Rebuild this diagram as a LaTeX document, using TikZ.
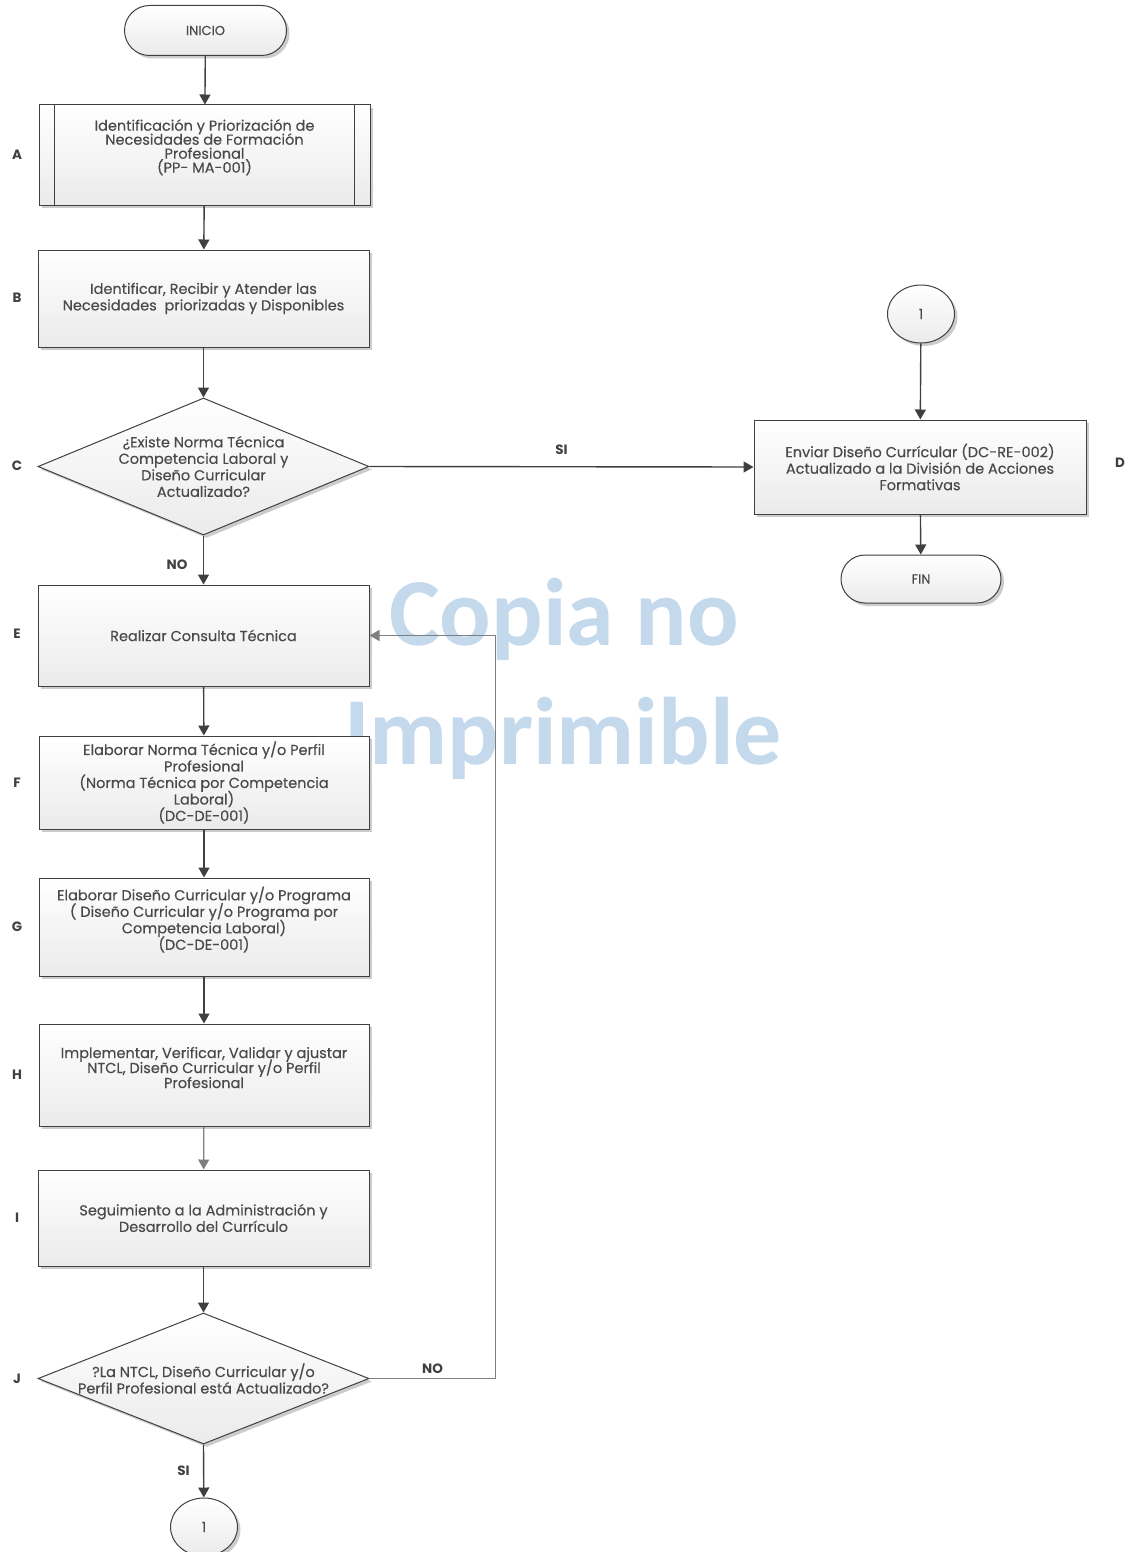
\documentclass[tikz,border=0pt]{standalone}
\usepackage{fontspec}
\setmainfont{Poppins}
\newfontfamily\boxfont{Poppins}[FakeBold=0.35]
\newfontfamily\wmfont{Carlito}
\usetikzlibrary{shapes.geometric,shapes.misc,shadows,arrows.meta}
\definecolor{ink}{HTML}{404040}
\definecolor{txt}{HTML}{4A4A4A}
\definecolor{wm}{RGB}{197,217,236}
\definecolor{loopgray}{HTML}{7F7F7F}
\newcommand{\bxfont}[2]{\boxfont\fontsize{#1}{#2}\selectfont\lineskiplimit=-50pt\lineskip=0pt}
\tikzset{
  base/.style={draw=ink, line width=1pt, top color=white, bottom color=gray!16,
    drop shadow={shadow xshift=3pt, shadow yshift=-3pt, fill=gray!40, opacity=1},
    text=txt, align=center, inner sep=0pt, font=\bxfont{14.5}{16.5}},
  stepbox/.style={base, rectangle, minimum width=331pt},
  decision/.style={base, diamond, minimum width=331pt, inner xsep=-170pt, inner ysep=-45pt},
  terminal/.style={base, rounded rectangle, minimum width=162pt, minimum height=50pt, font=\bxfont{13}{15}},
  connector/.style={base, ellipse, minimum width=67pt, minimum height=58pt, font=\bxfont{14}{15}},
  letter/.style={text=ink, font=\fontsize{13.5}{15}\selectfont\bfseries},
  answer/.style={text=ink, font=\fontsize{13.5}{15}\selectfont\bfseries},
  arr/.style={draw=ink, line width=1.4pt, -{Triangle[length=10pt,width=11pt]}},
  looparr/.style={draw=loopgray, line width=1.2pt, -{Triangle[length=10pt,width=11pt]}},
  watermark/.style={text=wm, font=\wmfont\bfseries\fontsize{96}{100}\selectfont, inner sep=0pt}
}
\begin{document}
\begin{tikzpicture}[x=1pt,y=-1pt]
\path[use as bounding box, clip] (0,0) rectangle (1128,1552);
\fill[white] (0,0) rectangle (1128,1552);

% watermark
\node[watermark, anchor=base] (wm1) at (564,645) {Copia no};
\node[watermark, anchor=base] (wm2) at (563,764) {Imprimible};

% nodes
\node[terminal] (inicio) at (205.5,30.5) {INICIO};
\node[stepbox, minimum height=100pt, font=\bxfont{14.5}{14}] (A) at (204.5,155) {Identificación y Priorización de\\Necesidades de Formación\\Profesional\\(PP- MA-001)\\[4pt]};
\node[stepbox, minimum height=97pt] (B) at (203.5,298.5) {Identificar, Recibir y Atender las\\Necesidades \ priorizadas y Disponibles};
\node[decision, minimum height=137pt] (C) at (203.5,466.5) {¿Existe Norma Técnica\\Competencia Laboral y\\Diseño Curricular\\Actualizado?};
\node[connector] (c1a) at (921,314) {1};
\node[stepbox, minimum width=332pt, minimum height=94pt] (D) at (920,467) {Enviar Diseño Currícular (DC-RE-002)\\Actualizado a la División de Acciones\\Formativas};
\node[terminal, minimum width=160pt, minimum height=48pt] (fin) at (921,579) {FIN};
\node[stepbox, minimum height=101pt] (E) at (203.5,635.5) {Realizar Consulta Técnica};
\node[stepbox, minimum width=330pt, minimum height=93pt] (F) at (204,782.5) {Elaborar Norma Técnica y/o Perfil\\Profesional\\(Norma Técnica por Competencia\\Laboral)\\(DC-DE-001)};
\node[stepbox, minimum width=330pt, minimum height=98pt] (G) at (204,927) {Elaborar Diseño Curricular y/o Programa\\( Diseño Curricular y/o Programa por\\Competencia Laboral)\\(DC-DE-001)\\[1pt]};
\node[stepbox, minimum width=330pt, minimum height=102pt, font=\bxfont{14.5}{15}] (H) at (204,1075) {Implementar, Verificar, Validar y ajustar\\NTCL, Diseño Curricular y/o Perfil\\Profesional\\[0pt]};
\node[stepbox, minimum height=96pt] (I) at (203.5,1218) {Seguimiento a la Administración y\\Desarrollo del Currículo};
\node[decision, minimum height=131pt] (J) at (203.5,1378.5) {?La NTCL, Diseño Curricular y/o\\Perfil Profesional está Actualizado?};
\node[connector] (c1b) at (204,1527) {1};

% predefined process bars
\draw[ink, line width=1pt] ([xshift=16pt]A.north west) -- ([xshift=16pt]A.south west);
\draw[ink, line width=1pt] ([xshift=-16pt]A.north east) -- ([xshift=-16pt]A.south east);

% letters
\node[letter] (lA) at (17,155) {A};
\node[letter] (lB) at (17,298) {B};
\node[letter] (lC) at (17,466) {C};
\node[letter] (lD) at (1120,463) {D};
\node[letter] (lE) at (17,634) {E};
\node[letter] (lF) at (17,783) {F};
\node[letter] (lG) at (17,927) {G};
\node[letter] (lH) at (17,1075) {H};
\node[letter] (lI) at (17,1218) {I};
\node[letter] (lJ) at (17,1379) {J};

% connectors
\draw[arr] (inicio) -- (A);
\draw[arr] (A) -- (B);
\draw[arr] (B) -- (C);
\draw[arr] (C.east) -- node[answer, above=8pt, pos=0.5] (si1) {SI} (D.west);
\draw[arr] (C.south) -- node[answer, left=12pt, pos=0.6] (no1) {NO} (E.north);
\draw[arr] (c1a) -- (D);
\draw[arr] (D) -- (fin);
\draw[arr] (E) -- (F);
\draw[arr] (F) -- (G);
\draw[arr] (G) -- (H);
\draw[looparr] (H) -- (I);
\draw[arr] (I) -- (J);
\draw[looparr] (J.east) -- ++(126,0) node[answer, pos=0.5, above=1pt] (no2) {NO} |- (E.east);
\draw[arr] (J.south) -- node[answer, left=10pt, pos=0.5] (si2) {SI} (c1b);
\end{tikzpicture}
\end{document}
